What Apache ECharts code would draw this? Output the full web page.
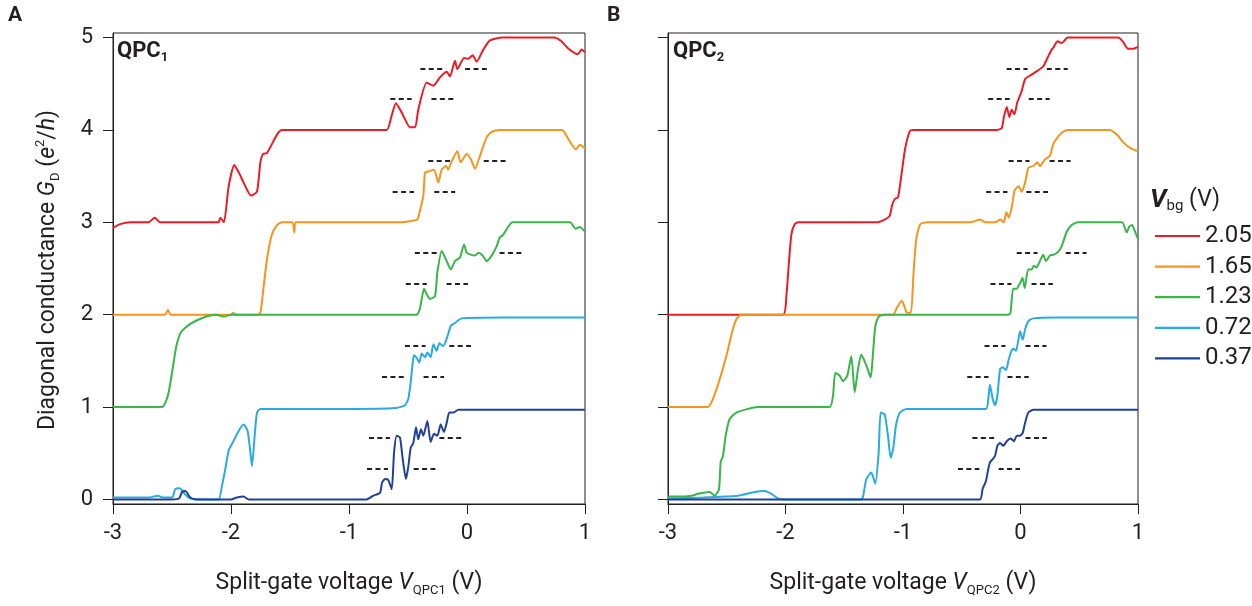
<!DOCTYPE html>
<html>
<head>
<meta charset="utf-8">
<script src="https://cdn.jsdelivr.net/npm/echarts@6/dist/echarts.min.js"></script>
<style>
html,body{margin:0;padding:0;background:#fff;}
#chart{width:1252px;height:606px;}
</style>
</head>
<body>
<div id="chart"></div>
<script>
// ---------- data ----------
const xTicks = [-3, -2, -1, 0, 1];
const yTicks = [0, 1, 2, 3, 4, 5];
const vbgLabels = ['2.05', '1.65', '1.23', '0.72', '0.37'];
const seriesColors = ['#ec1c24', '#f7941d', '#39b54a', '#29abe2', '#21409a'];

// Panel A (QPC1)
const redA = [[-3,2.94],[-2.94,2.98],[-2.85,3.0],[-2.7,3.0],[-2.647,3.05],[-2.6,3.0],[-2.3,3.0],[-2.105,3.0],[-2.09,3.05],[-2.06,3.0],[-2.02,3.39],[-1.972,3.62],[-1.93,3.53],[-1.893,3.43],[-1.83,3.29],[-1.78,3.33],[-1.751,3.65],[-1.729,3.74],[-1.695,3.75],[-1.61,3.95],[-1.568,4.0],[-1.2,4.0],[-0.9,4.0],[-0.681,4.0],[-0.64,4.15],[-0.602,4.29],[-0.55,4.18],[-0.483,4.03],[-0.44,4.03],[-0.413,4.22],[-0.342,4.51],[-0.285,4.48],[-0.229,4.57],[-0.172,4.63],[-0.144,4.58],[-0.102,4.75],[-0.082,4.66],[-0.025,4.78],[0.011,4.77],[0.048,4.81],[0.082,4.74],[0.138,4.87],[0.195,4.97],[0.3,5.0],[0.6,5.0],[0.738,5.0],[0.8,4.96],[0.86,4.88],[0.94,4.82],[0.97,4.87],[1.0,4.84]];
const orangeA = [[-3,2.0],[-2.7,2.0],[-2.56,2.0],[-2.534,2.05],[-2.51,2.0],[-2.2,2.0],[-2.0,2.0],[-1.98,2.02],[-1.96,2.0],[-1.78,2.0],[-1.751,2.02],[-1.723,2.31],[-1.695,2.6],[-1.653,2.87],[-1.61,2.97],[-1.568,3.0],[-1.48,3.0],[-1.463,2.89],[-1.45,3.0],[-1.0,3.0],[-0.6,3.0],[-0.5,3.01],[-0.45,3.02],[-0.42,3.03],[-0.40,3.12],[-0.37,3.29],[-0.356,3.54],[-0.328,3.55],[-0.28,3.57],[-0.243,3.43],[-0.215,3.57],[-0.178,3.61],[-0.159,3.57],[-0.13,3.66],[-0.082,3.77],[-0.054,3.65],[-0.003,3.74],[0.034,3.68],[0.068,3.58],[0.11,3.72],[0.166,3.92],[0.209,3.98],[0.28,4.0],[0.6,4.0],[0.805,4.0],[0.86,3.9],[0.923,3.79],[0.956,3.84],[1.0,3.8]];
const greenA = [[-3,1.0],[-2.585,1.0],[-2.555,1.05],[-2.528,1.16],[-2.49,1.45],[-2.463,1.66],[-2.424,1.81],[-2.345,1.9],[-2.232,1.97],[-2.13,2.0],[-2.06,1.98],[-2.0,2.0],[-1.5,2.0],[-1.0,2.0],[-0.426,2.0],[-0.4,2.06],[-0.384,2.17],[-0.364,2.28],[-0.34,2.22],[-0.314,2.17],[-0.271,2.2],[-0.251,2.46],[-0.214,2.69],[-0.172,2.58],[-0.138,2.49],[-0.102,2.58],[-0.059,2.62],[-0.025,2.76],[-0.003,2.67],[0.031,2.65],[0.068,2.64],[0.096,2.67],[0.133,2.64],[0.166,2.58],[0.209,2.64],[0.251,2.74],[0.279,2.84],[0.303,2.86],[0.387,3.0],[0.6,3.0],[0.873,3.0],[0.92,2.93],[0.955,2.95],[1.0,2.9]];
const lightA = [[-3,0.02],[-2.7,0.02],[-2.62,0.04],[-2.58,0.02],[-2.5,0.02],[-2.472,0.11],[-2.435,0.12],[-2.387,0.05],[-2.345,0.01],[-2.2,0.0],[-2.105,0.0],[-2.076,0.15],[-2.048,0.33],[-2.02,0.53],[-1.992,0.6],[-1.935,0.74],[-1.893,0.81],[-1.859,0.74],[-1.836,0.51],[-1.822,0.36],[-1.802,0.65],[-1.78,0.94],[-1.751,0.98],[-1.5,0.98],[-1.0,0.98],[-0.6,0.99],[-0.525,1.02],[-0.497,1.09],[-0.477,1.27],[-0.46,1.48],[-0.449,1.56],[-0.421,1.52],[-0.404,1.48],[-0.384,1.58],[-0.356,1.54],[-0.336,1.59],[-0.308,1.54],[-0.285,1.68],[-0.257,1.61],[-0.234,1.69],[-0.201,1.66],[-0.172,1.74],[-0.136,1.88],[-0.102,1.91],[-0.045,1.96],[0.3,1.97],[1.0,1.97]];
const darkA = [[-3,0.0],[-2.5,0.0],[-2.44,0.01],[-2.415,0.08],[-2.387,0.09],[-2.345,0.02],[-2.3,0.0],[-2.0,0.0],[-1.95,0.02],[-1.893,0.03],[-1.85,0.0],[-1.2,0.0],[-0.85,0.0],[-0.794,0.04],[-0.737,0.07],[-0.72,0.18],[-0.695,0.22],[-0.667,0.21],[-0.638,0.11],[-0.618,0.51],[-0.596,0.69],[-0.568,0.67],[-0.545,0.44],[-0.517,0.22],[-0.497,0.36],[-0.477,0.56],[-0.455,0.61],[-0.432,0.78],[-0.413,0.65],[-0.39,0.76],[-0.37,0.69],[-0.336,0.85],[-0.308,0.62],[-0.28,0.71],[-0.251,0.69],[-0.223,0.81],[-0.195,0.73],[-0.172,0.83],[-0.15,0.94],[-0.116,0.94],[-0.074,0.97],[0.2,0.97],[1.0,0.97]];

// Panel B (QPC2)
const redB = [[-3,2.0],[-2.5,2.0],[-2.021,2.0],[-1.993,2.2],[-1.973,2.53],[-1.95,2.87],[-1.922,2.98],[-1.894,3.0],[-1.6,3.0],[-1.227,3.0],[-1.156,3.03],[-1.113,3.07],[-1.094,3.18],[-1.071,3.25],[-1.043,3.27],[-1.02,3.45],[-0.983,3.79],[-0.941,3.99],[-0.913,4.0],[-0.6,4.0],[-0.203,4.0],[-0.16,4.02],[-0.14,4.15],[-0.117,4.25],[-0.095,4.14],[-0.075,4.22],[-0.052,4.17],[-0.027,4.3],[0.01,4.42],[0.039,4.55],[0.095,4.6],[0.143,4.64],[0.194,4.69],[0.237,4.8],[0.265,4.87],[0.279,4.89],[0.316,4.96],[0.35,4.94],[0.402,5.0],[0.6,5.0],[0.829,5.0],[0.87,4.96],[0.915,4.88],[0.96,4.88],[1.0,4.9]];
const orangeB = [[-3,1.0],[-2.66,1.0],[-2.617,1.09],[-2.56,1.3],[-2.504,1.55],[-2.455,1.81],[-2.418,1.95],[-2.376,2.0],[-2.0,2.0],[-1.5,2.0],[-1.085,2.0],[-1.05,2.08],[-1.01,2.15],[-0.985,2.08],[-0.967,2.02],[-0.933,2.02],[-0.91,2.46],[-0.887,2.82],[-0.853,2.98],[-0.796,3.0],[-0.427,3.0],[-0.342,3.03],[-0.3,3.0],[-0.214,3.0],[-0.171,3.03],[-0.143,3.0],[-0.12,3.11],[-0.1,3.05],[-0.072,3.18],[-0.052,3.34],[-0.043,3.36],[-0.015,3.39],[0.01,3.33],[0.039,3.43],[0.067,3.59],[0.11,3.61],[0.143,3.65],[0.166,3.61],[0.208,3.68],[0.251,3.72],[0.279,3.85],[0.316,3.92],[0.35,3.97],[0.402,4.0],[0.76,4.0],[0.82,3.95],[0.88,3.86],[0.94,3.8],[1.0,3.77]];
const greenB = [[-3,0.03],[-2.9,0.03],[-2.8,0.04],[-2.745,0.06],[-2.645,0.08],[-2.603,0.04],[-2.566,0.11],[-2.552,0.4],[-2.532,0.47],[-2.509,0.69],[-2.475,0.87],[-2.418,0.94],[-2.319,0.98],[-2.234,1.0],[-1.624,1.0],[-1.596,1.12],[-1.576,1.37],[-1.539,1.34],[-1.511,1.28],[-1.474,1.34],[-1.44,1.55],[-1.411,1.16],[-1.383,1.41],[-1.355,1.57],[-1.312,1.45],[-1.275,1.32],[-1.255,1.59],[-1.235,1.88],[-1.207,1.98],[-1.156,2.0],[-0.6,2.0],[-0.104,2.0],[-0.085,2.02],[-0.063,2.28],[-0.035,2.28],[0.0,2.35],[0.017,2.4],[0.036,2.29],[0.065,2.49],[0.094,2.49],[0.114,2.53],[0.136,2.51],[0.165,2.58],[0.193,2.65],[0.216,2.58],[0.25,2.64],[0.284,2.65],[0.32,2.68],[0.35,2.74],[0.391,2.89],[0.436,2.97],[0.487,3.0],[0.863,3.0],[0.904,2.89],[0.925,2.95],[0.949,2.97],[0.975,2.9],[1.0,2.82]];
const lightB = [[-3,0.01],[-2.7,0.02],[-2.404,0.04],[-2.262,0.08],[-2.177,0.09],[-2.12,0.06],[-2.064,0.01],[-2.0,0.0],[-1.355,0.0],[-1.34,0.03],[-1.312,0.22],[-1.27,0.29],[-1.236,0.17],[-1.207,0.51],[-1.19,0.94],[-1.156,0.92],[-1.128,0.69],[-1.105,0.45],[-1.082,0.56],[-1.06,0.8],[-1.026,0.94],[-0.97,0.98],[-0.294,0.98],[-0.274,1.09],[-0.26,1.24],[-0.237,1.09],[-0.217,1.02],[-0.197,1.12],[-0.174,1.41],[-0.152,1.43],[-0.123,1.40],[-0.103,1.5],[-0.083,1.59],[-0.061,1.63],[-0.038,1.61],[-0.018,1.73],[-0.004,1.82],[0.019,1.73],[0.039,1.84],[0.067,1.93],[0.11,1.96],[0.3,1.97],[1.0,1.97]];
const darkB = [[-3,0.0],[-1.0,0.0],[-0.345,0.0],[-0.323,0.11],[-0.294,0.2],[-0.274,0.33],[-0.26,0.4],[-0.24,0.43],[-0.217,0.47],[-0.197,0.58],[-0.174,0.61],[-0.146,0.58],[-0.117,0.63],[-0.083,0.66],[-0.055,0.63],[-0.032,0.69],[-0.004,0.69],[0.019,0.72],[0.039,0.83],[0.067,0.94],[0.11,0.97],[1.0,0.97]];

// fractional-plateau guide dashes: [xStart, xEnd, G]
const dashA = [[-0.650,-0.469,4.333],[-0.301,-0.116,4.333],[-0.395,-0.207,4.667],[-0.016,0.168,4.667],[-0.630,-0.449,3.333],[-0.277,-0.100,3.333],[-0.328,-0.140,3.667],[0.142,0.329,3.667],[-0.519,-0.341,2.333],[-0.173,0.008,2.333],[-0.442,-0.257,2.667],[0.276,0.464,2.667],[-0.720,-0.536,1.333],[-0.368,-0.194,1.333],[-0.526,-0.351,1.667],[-0.150,0.034,1.667],[-0.847,-0.670,0.333],[-0.452,-0.267,0.333],[-0.831,-0.653,0.667],[-0.234,-0.049,0.667]];
const dashB = [[-0.275,-0.092,4.333],[0.070,0.248,4.333],[-0.118,0.060,4.667],[0.224,0.402,4.667],[-0.292,-0.111,3.333],[0.050,0.234,3.333],[-0.101,0.077,3.667],[0.248,0.426,3.667],[-0.255,-0.077,2.333],[0.094,0.275,2.333],[-0.032,0.145,2.667],[0.385,0.562,2.667],[-0.453,-0.272,1.333],[-0.111,0.070,1.333],[-0.306,-0.128,1.667],[0.043,0.221,1.667],[-0.532,-0.350,0.333],[-0.186,-0.005,0.333],[-0.409,-0.224,0.667],[0.043,0.224,0.667]];

const panelA = [redA, orangeA, greenA, lightA, darkA];
const panelB = [redB, orangeB, greenB, lightB, darkB];

// ---------- chart ----------
const INK = '#231f20';
const FONT = 'Roboto, "Open Sans", sans-serif';
const chart = echarts.init(document.getElementById('chart'), null, {renderer: 'canvas'});

function xAxisFor(gi) {
  return {
    type: 'value', gridIndex: gi, min: xTicks[0], max: xTicks[xTicks.length - 1], interval: 1,
    axisLine: {show: true, onZero: false, lineStyle: {color: INK, width: 1}},
    axisTick: {show: true, inside: false, length: 10, lineStyle: {color: INK, width: 1}},
    axisLabel: {show: true, fontSize: 22, margin: 18, color: INK, fontFamily: FONT},
    splitLine: {show: false}
  };
}
function yAxisFor(gi, labels) {
  return {
    type: 'value', gridIndex: gi, min: -0.05, max: 5.05,
    axisLine: {show: true, onZero: false, lineStyle: {color: INK, width: 1}},
    axisTick: {show: true, inside: false, length: 10, customValues: yTicks, lineStyle: {color: INK, width: 1}},
    axisLabel: {show: labels, customValues: yTicks, fontSize: 22, margin: 20, color: INK, fontFamily: FONT},
    splitLine: {show: false}
  };
}

function dashMark(list) {
  return {
    silent: true, symbol: ['none', 'none'], animation: false,
    label: {show: false},
    lineStyle: {color: INK, width: 2, type: [5, 3.4], opacity: 1},
    emphasis: {disabled: true},
    data: list.map(d => [{coord: [d[0], d[2]]}, {coord: [d[1], d[2]]}])
  };
}

const series = [];
[panelA, panelB].forEach((panel, pi) => {
  panel.forEach((data, i) => {
    series.push({
      type: 'line', name: vbgLabels[i], xAxisIndex: pi, yAxisIndex: pi,
      data: data, showSymbol: false, symbol: 'none', smooth: 0.2,
      lineStyle: {color: seriesColors[i], width: 2},
      itemStyle: {color: seriesColors[i]},
      emphasis: {disabled: true},
      z: 2 + i
    });
  });
  series.push({
    type: 'line', xAxisIndex: pi, yAxisIndex: pi, data: [], symbol: 'none',
    markLine: dashMark(pi === 0 ? dashA : dashB), z: 10
  });
});

const baseText = {fill: INK, fontFamily: FONT};
const titleRich = {
  n: {fontSize: 23, fill: INK, fontFamily: FONT, lineHeight: 28},
  i: {fontSize: 23, fontStyle: 'italic', fill: INK, fontFamily: FONT, lineHeight: 28},
  s: {fontSize: 13, fill: INK, fontFamily: FONT, verticalAlign: 'bottom', lineHeight: 13},
  p: {fontSize: 13, fill: INK, fontFamily: FONT, verticalAlign: 'top', lineHeight: 13}
};

chart.setOption({
  animation: false,
  backgroundColor: '#fff',
  grid: [
    {left: 113, top: 33, width: 472, height: 471, show: true, borderColor: INK, borderWidth: 1, backgroundColor: 'transparent'},
    {left: 668, top: 33, width: 470, height: 471, show: true, borderColor: INK, borderWidth: 1, backgroundColor: 'transparent'}
  ],
  xAxis: [xAxisFor(0), xAxisFor(1)],
  yAxis: [yAxisFor(0, true), yAxisFor(1, false)],
  legend: {
    data: vbgLabels, orient: 'vertical', left: 1150, top: 219,
    itemWidth: 45, itemHeight: 14, itemGap: 6.6,
    textStyle: {fontSize: 24, color: INK, fontFamily: FONT, lineHeight: 24},
    selectedMode: false, icon: 'path://M0,6 L45,6 L45,8.2 L0,8.2 Z'
  },
  series: series,
  graphic: [
    {type: 'text', left: 8, top: 5, style: Object.assign({}, baseText, {text: 'A', fontSize: 21, fontWeight: 'bold'})},
    {type: 'text', left: 607, top: 5, style: Object.assign({}, baseText, {text: 'B', fontSize: 21, fontWeight: 'bold'})},
    {type: 'text', x: 117, y: 38, style: Object.assign({}, baseText, {
      text: '{b|QPC}{s|1}',
      rich: {b: {fontSize: 22, fontWeight: 'bold', fill: INK, fontFamily: FONT, lineHeight: 26},
             s: {fontSize: 13, fontWeight: 'bold', fill: INK, fontFamily: FONT, verticalAlign: 'bottom', lineHeight: 13}}
    })},
    {type: 'text', x: 673, y: 38, style: Object.assign({}, baseText, {
      text: '{b|QPC}{s|2}',
      rich: {b: {fontSize: 22, fontWeight: 'bold', fill: INK, fontFamily: FONT, lineHeight: 26},
             s: {fontSize: 13, fontWeight: 'bold', fill: INK, fontFamily: FONT, verticalAlign: 'bottom', lineHeight: 13}}
    })},
    {type: 'text', x: 349, y: 583, style: Object.assign({}, baseText, {
      text: '{n|Split-gate voltage }{i|V}{s|QPC1}{n| (V)}', textAlign: 'center', textVerticalAlign: 'middle',
      rich: titleRich
    })},
    {type: 'text', x: 903, y: 583, style: Object.assign({}, baseText, {
      text: '{n|Split-gate voltage }{i|V}{s|QPC2}{n| (V)}', textAlign: 'center', textVerticalAlign: 'middle',
      rich: titleRich
    })},
    {type: 'text', x: 48, y: 270, rotation: Math.PI / 2, style: Object.assign({}, baseText, {
      text: '{n|Diagonal conductance }{i|G}{s|D}{n| (}{i|e}{p|2}{n|/}{i|h}{n|)}', textAlign: 'center', textVerticalAlign: 'middle',
      rich: titleRich
    })},
    {type: 'text', x: 1150, y: 200, style: Object.assign({}, baseText, {
      text: '{v|V}{s|bg}{n| (V)}', textVerticalAlign: 'middle',
      rich: {v: {fontSize: 26, fontWeight: 'bold', fontStyle: 'italic', fill: INK, fontFamily: FONT, lineHeight: 28},
             n: {fontSize: 23, fill: INK, fontFamily: FONT, lineHeight: 28},
             s: {fontSize: 15, fill: INK, fontFamily: FONT, verticalAlign: 'bottom', lineHeight: 15}}
    })}
  ]
});
</script>
</body>
</html>
